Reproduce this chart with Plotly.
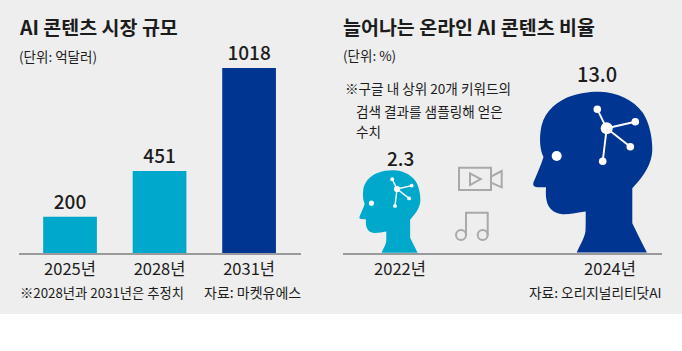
import plotly.graph_objects as go

W, H = 682, 351
FONT = "Noto Sans CJK KR"
INK = "#1c1c1c"
CYAN = "#00a8cc"
NAVY = "#003591"
GRAY = "#9a9a9a"

market_years = ["2025년", "2028년", "2031년"]
market_values = [200, 451, 1018]
share_years = ["2022년", "2024년"]
share_values = [2.3, 13.0]

def px(x): return x / W
def py(y): return 1 - y / H

# Head pictogram, outline as cubic segments, drawn at the larger size in page pixels
HEAD_START = (576.7, 252.6)
HEAD_CURVES = [
    (580, 245, 585, 237, 585.5, 231),
    (585.8, 224, 585.7, 218, 585.7, 211.5),
    (578, 212.5, 570, 214.5, 563, 214.3),
    (553, 213.5, 548, 208, 546.5, 200),
    (545.5, 195, 546, 191, 546, 187.3),
    (541, 187.3, 537, 187.5, 534.5, 186.5),
    (532.8, 185.5, 533, 183.5, 533.8, 181.5),
    (537, 174, 541, 165, 543.5, 157),
    (540, 150, 539.5, 140, 540.5, 132),
    (542, 115, 553, 104, 567, 97.5),
    (580, 92.5, 590, 91.5, 600, 91.7),
    (617, 92, 634, 100, 643, 113),
    (649, 122, 652.5, 137, 652.3, 150),
    (652, 163, 645, 175, 632.3, 188.3),
    (632.3, 200, 632.3, 212, 632.3, 223.3),
    (637, 233, 642, 243, 646.9, 252.6),
]
HUB = (606.7, 128.3)
NODES = [(597.3, 109.3), (635.3, 121.7), (630.3, 146.7), (602.7, 161.3)]
EYE = (556.7, 156.0)

def head_shapes(color, scale, dx, dy):
    tx = lambda x: x * scale + dx
    ty = lambda y: y * scale + dy
    d = f"M{px(tx(HEAD_START[0])):.5f},{py(ty(HEAD_START[1])):.5f}"
    for a, b, c, e, f, g in HEAD_CURVES:
        d += (f" C{px(tx(a)):.5f},{py(ty(b)):.5f} {px(tx(c)):.5f},{py(ty(e)):.5f}"
              f" {px(tx(f)):.5f},{py(ty(g)):.5f}")
    d += " Z"
    out = [dict(type="path", path=d, fillcolor=color, line=dict(width=0),
                xref="paper", yref="paper", layer="above")]
    for n in NODES:
        out.append(dict(type="line", xref="paper", yref="paper",
                        x0=px(tx(HUB[0])), y0=py(ty(HUB[1])), x1=px(tx(n[0])), y1=py(ty(n[1])),
                        line=dict(color="white", width=max(1.0, 1.9 * scale ** 0.5))))
    def disc(c, r):
        r *= scale
        return dict(type="circle", xref="paper", yref="paper", fillcolor="white",
                    line=dict(width=0), x0=px(tx(c[0]) - r), x1=px(tx(c[0]) + r),
                    y0=py(ty(c[1]) + r), y1=py(ty(c[1]) - r))
    out.append(disc(HUB, 6.0))
    out.append(disc(EYE, 5.0))
    for n in NODES:
        out.append(disc(n, 3.8))
    return out

def poly(points, close=True):
    d = "M" + " L".join(f"{px(x):.5f},{py(y):.5f}" for x, y in points)
    return d + (" Z" if close else "")

ICON = "#a9a9a9"
def icon_path(points, close=True):
    return dict(type="path", path=poly(points, close), xref="paper", yref="paper",
                line=dict(color=ICON, width=2))
def icon_circle(cx, cy, r):
    return dict(type="circle", xref="paper", yref="paper", line=dict(color=ICON, width=2),
                x0=px(cx - r), x1=px(cx + r), y0=py(cy + r), y1=py(cy - r))

shapes = [dict(type="rect", xref="paper", yref="paper", x0=0, x1=1, y0=py(314), y1=1,
               fillcolor="#eeeeee", line=dict(width=0), layer="below")]
shapes += head_shapes(NAVY, 1.0, 0, 0)
shapes += head_shapes(CYAN, 0.512, 86.4, 123.3)
shapes += [
    icon_path([(459, 167.7), (491, 167.7), (491, 190), (459, 190)]),
    icon_path([(470, 173.3), (470, 185), (480.7, 179)]),
    icon_path([(491, 176.7), (501.7, 171), (501.7, 187.3), (491, 182.7)]),
    icon_circle(461, 235, 5), icon_circle(482.7, 235, 5),
    icon_path([(466, 235), (466, 212.7), (487.7, 212.7), (487.7, 235)], close=False),
]

fig = go.Figure()
fig.add_trace(go.Bar(
    x=[0, 1, 2], y=market_values, width=0.6,
    marker=dict(color=[CYAN, CYAN, NAVY], line=dict(width=0)),
    text=[str(v) for v in market_values], textposition="outside", cliponaxis=False,
    textfont=dict(family=FONT, size=19, color=INK, weight=500), hoverinfo="skip",
    xaxis="x", yaxis="y"))

def note(x, y, text, size=14, anchor="left", weight=400):
    return dict(x=px(x), y=py(y), xref="paper", yref="paper", text=text, showarrow=False,
                xanchor=anchor, yanchor="middle", align="left",
                font=dict(family=FONT, size=size, color=INK, weight=weight))

anns = [
    note(17, 26.5, "AI 콘텐츠 시장 규모", 19.5, weight=700),
    note(17, 56, "(단위: 억달러)", 13.5),
    note(18, 292, "※2028년과 2031년은 추정치", 13.3),
    note(303, 292, "자료: 마켓유에스", 14, "right"),
    note(341, 26.5, "늘어나는 온라인 AI 콘텐츠 비율", 19.5, weight=700),
    note(341, 55, "(단위: %)", 13.5),
    note(343, 88, "※구글 내 상위 20개 키워드의", 13.6),
    note(354, 111, "검색 결과를 샘플링해 얻은", 13.6),
    note(354, 131, "수치", 13.6),
    note(400, 157, f"{share_values[0]:.1f}", 19, "center", 500),
    note(597, 73, f"{share_values[1]:.1f}", 20, "center", 500),
    note(664, 292, "자료: 오리지널리티닷AI", 13.7, "right"),
]

fig.update_layout(
    width=W, height=H, margin=dict(l=0, r=0, t=0, b=0), autosize=False,
    paper_bgcolor="white", plot_bgcolor="rgba(0,0,0,0)", showlegend=False,
    shapes=shapes, annotations=anns, bargap=0.4,
    xaxis=dict(domain=[px(19), px(301)], range=[-0.57, 2.58], tickvals=[0, 1, 2],
               ticktext=market_years, showgrid=False, zeroline=False, showline=True,
               linecolor=GRAY, linewidth=2, ticks="",
               tickfont=dict(family=FONT, size=16.5, color=INK)),
    yaxis=dict(domain=[py(253), py(68)], range=[0, 1018], visible=False),
    xaxis2=dict(domain=[px(343), px(662)], range=[343, 662], tickvals=[400, 610],
                ticktext=share_years, showgrid=False, zeroline=False, showline=True,
                linecolor=GRAY, linewidth=2, ticks="",
                tickfont=dict(family=FONT, size=16.5, color=INK), anchor="y2"),
    yaxis2=dict(domain=[py(253), py(68)], range=[0, 1], visible=False, anchor="x2"),
)
fig.add_trace(go.Scatter(x=[400, 610], y=[0, 0], mode="markers", marker=dict(opacity=0),
                         hoverinfo="skip", xaxis="x2", yaxis="y2"))
fig.write_html("out.html", config=dict(displayModeBar=False),
               post_script="document.body.style.margin='0';document.body.style.overflow='hidden';")
